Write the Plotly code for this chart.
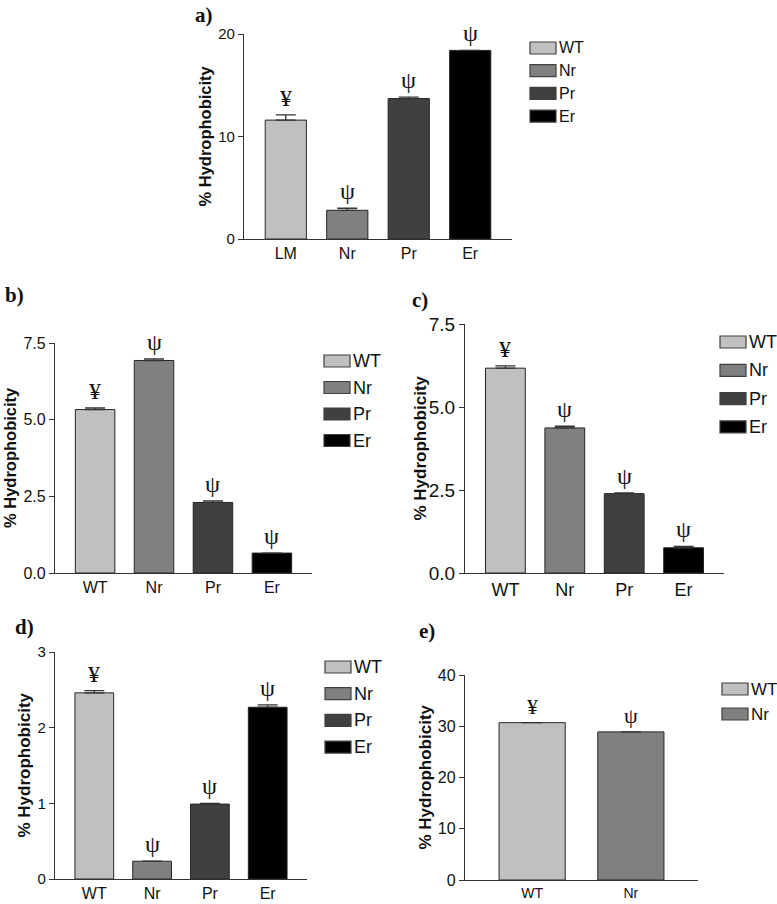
import plotly.graph_objects as go

W, H = 777, 904

# ---------------- data ----------------
colors = ["#c0c0c0", "#808080", "#404040", "#000000"]

a_cats = ["LM", "Nr", "Pr", "Er"]
a_vals = [11.6, 2.8, 13.7, 18.4]
a_err = [0.5, 0.2, 0.15, 0.0]
a_marks = ["¥", "ψ", "ψ", "ψ"]
a_legend = ["WT", "Nr", "Pr", "Er"]
a_ticks = [0, 10, 20]
a_ticktext = ["0", "10", "20"]

b_cats = ["WT", "Nr", "Pr", "Er"]
b_vals = [5.33, 6.93, 2.30, 0.65]
b_err = [0.05, 0.05, 0.05, 0.0]
b_marks = ["¥", "ψ", "ψ", "ψ"]
b_legend = ["WT", "Nr", "Pr", "Er"]
b_ticks = [0, 2.5, 5.0, 7.5]
b_ticktext = ["0.0", "2.5", "5.0", "7.5"]

c_cats = ["WT", "Nr", "Pr", "Er"]
c_vals = [6.17, 4.37, 2.39, 0.76]
c_err = [0.07, 0.05, 0.02, 0.04]
c_marks = ["¥", "ψ", "ψ", "ψ"]
c_legend = ["WT", "Nr", "Pr", "Er"]
c_ticks = [0, 2.5, 5.0, 7.5]
c_ticktext = ["0.0", "2.5", "5.0", "7.5"]

d_cats = ["WT", "Nr", "Pr", "Er"]
d_vals = [2.46, 0.235, 0.99, 2.27]
d_err = [0.03, 0.0, 0.01, 0.03]
d_marks = ["¥", "ψ", "ψ", "ψ"]
d_legend = ["WT", "Nr", "Pr", "Er"]
d_ticks = [0, 1, 2, 3]
d_ticktext = ["0", "1", "2", "3"]

e_cats = ["WT", "Nr"]
e_vals = [30.7, 28.9]
e_err = [0.0, 0.0]
e_marks = ["¥", "ψ"]
e_legend = ["WT", "Nr"]
e_ticks = [0, 10, 20, 30, 40]
e_ticktext = ["0", "10", "20", "30", "40"]

ytitle = "% Hydrophobicity"

# ---------------- layout specs (pixels) ----------------
panels = [
    dict(label="a)", lab_xy=(193, 15), cats=a_cats, vals=a_vals, err=a_err, marks=a_marks,
         legend=a_legend, ticks=a_ticks, ticktext=a_ticktext,
         x0=244, x1=512, ytop=34, ybot=239, yr=[0, 20],
         tickfs=15, xfs=16, legfs=16, titlex=205, titlefs=16.5, markfs=24,
         leg=(530, 48, 22.7)),
    dict(label="b)", lab_xy=(3, 295), cats=b_cats, vals=b_vals, err=b_err, marks=b_marks,
         legend=b_legend, ticks=b_ticks, ticktext=b_ticktext,
         x0=55, x1=312, ytop=343, ybot=573, yr=[0, 7.5],
         tickfs=16, xfs=16, legfs=18, titlex=10, titlefs=16.5, markfs=24,
         leg=(324, 361, 26.5)),
    dict(label="c)", lab_xy=(410, 300), cats=c_cats, vals=c_vals, err=c_err, marks=c_marks,
         legend=c_legend, ticks=c_ticks, ticktext=c_ticktext,
         x0=465, x1=724, ytop=324, ybot=573, yr=[0, 7.5],
         tickfs=19, xfs=18, legfs=18, titlex=420, titlefs=17, markfs=24,
         leg=(720, 342, 28.3)),
    dict(label="d)", lab_xy=(13, 627), cats=d_cats, vals=d_vals, err=d_err, marks=d_marks,
         legend=d_legend, ticks=d_ticks, ticktext=d_ticktext,
         x0=55, x1=307, ytop=652, ybot=879, yr=[0, 3],
         tickfs=15, xfs=16, legfs=18, titlex=24, titlefs=17, markfs=24,
         leg=(325, 667, 26.7)),
    dict(label="e)", lab_xy=(417, 631), cats=e_cats, vals=e_vals, err=e_err, marks=e_marks,
         legend=e_legend, ticks=e_ticks, ticktext=e_ticktext,
         x0=465, x1=698, ytop=675, ybot=880, yr=[0, 40],
         tickfs=16, xfs=14, legfs=17, titlex=425, titlefs=17, markfs=22,
         leg=(722, 689, 25)),
]

AX = "#333333"
SANS = "Liberation Sans, Arial, sans-serif"
SERIF = "Liberation Serif, Times New Roman, serif"

fig = go.Figure()
annotations = []
shapes = []
layout = dict(
    template="none",
    width=W, height=H, autosize=False,
    margin=dict(l=0, r=0, t=0, b=0, pad=0),
    paper_bgcolor="white", plot_bgcolor="white",
    showlegend=False, barmode="overlay",
)

def px(x):
    return x / W

def py(y):
    return 1 - y / H

for i, p in enumerate(panels, start=1):
    xs = "" if i == 1 else str(i)
    n = len(p["cats"])
    fig.add_trace(go.Bar(
        x=p["cats"], y=p["vals"], width=0.67,
        marker=dict(color=colors[:n], line=dict(color="#262626", width=1)),
        error_y=dict(type="data", symmetric=False, array=p["err"], arrayminus=[0] * n,
                     color="#333333", thickness=1.3, width=10),
        xaxis="x" + xs, yaxis="y" + xs, hoverinfo="skip",
    ))
    layout["xaxis" + xs] = dict(
        domain=[px(p["x0"]), px(p["x1"])], anchor="y" + xs, type="category",
        range=[-0.68, n - 0.32], showline=True, linecolor=AX, linewidth=1.3,
        ticks="", showgrid=False, zeroline=False, automargin=False,
        tickfont=dict(family=SANS, size=p["xfs"], color="#111"),
    )
    layout["yaxis" + xs] = dict(
        domain=[py(p["ybot"]), py(p["ytop"])], anchor="x" + xs,
        range=p["yr"], showline=True, linecolor=AX, linewidth=1.3,
        ticks="outside", ticklen=5, tickcolor=AX, tickwidth=1.3,
        tickvals=p["ticks"], ticktext=p["ticktext"],
        showgrid=False, zeroline=False, automargin=False,
        tickfont=dict(family=SANS, size=p["tickfs"], color="#111"),
    )
    # y title
    annotations.append(dict(
        text="<b>" + ytitle + "</b>", textangle=-90, showarrow=False,
        xref="paper", x=px(p["titlex"]), xanchor="center",
        yref="y" + xs + " domain", y=0.5, yanchor="middle",
        font=dict(family=SANS, size=p["titlefs"], color="#111"),
    ))
    # panel label
    annotations.append(dict(
        text="<b>" + p["label"] + "</b>", showarrow=False,
        xref="paper", x=px(p["lab_xy"][0]), xanchor="left",
        yref="paper", y=py(p["lab_xy"][1]), yanchor="middle",
        font=dict(family=SERIF, size=21, color="#111"),
    ))
    # significance marks
    for c, v, e, m in zip(p["cats"], p["vals"], p["err"], p["marks"]):
        annotations.append(dict(
            text=m, showarrow=False, xref="x" + xs, x=c,
            yref="y" + xs, y=v + e, yanchor="bottom", yshift=2,
            font=dict(family=SERIF, size=p["markfs"], color="#111"),
        ))
    # legend
    lx, ly, ld = p["leg"]
    for k, lab in enumerate(p["legend"]):
        cy = ly + k * ld
        shapes.append(dict(
            type="rect", xref="paper", yref="paper",
            x0=px(lx), x1=px(lx + 26), y0=py(cy + 6), y1=py(cy - 6),
            fillcolor=colors[k], line=dict(color="#404040", width=1.2),
        ))
        annotations.append(dict(
            text=lab, showarrow=False, xref="paper", x=px(lx + 27), xanchor="left",
            yref="paper", y=py(cy), yanchor="middle",
            font=dict(family=SANS, size=p["legfs"], color="#111"),
        ))

layout["annotations"] = annotations
layout["shapes"] = shapes
fig.update_layout(**layout)
fig.write_html(
    "out.html",
    config={"displayModeBar": False},
    post_script="document.body.style.margin='0';document.body.style.overflow='hidden';",
)
